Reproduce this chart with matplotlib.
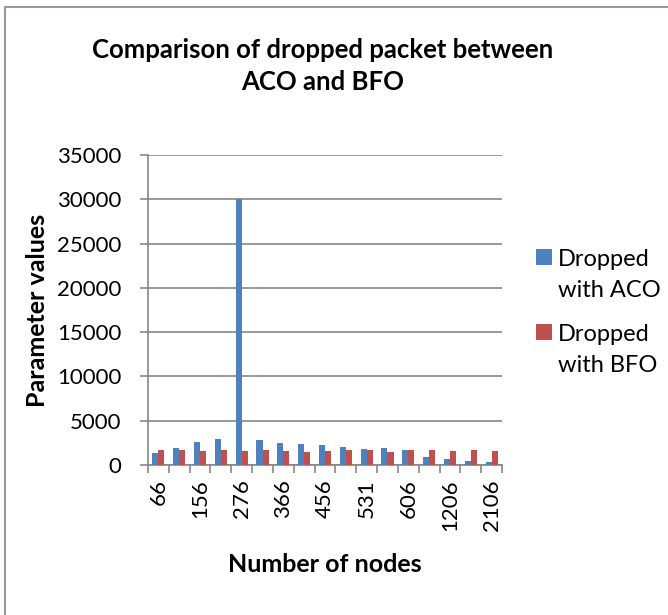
import numpy as np
import matplotlib
matplotlib.use('Agg')
import matplotlib.pyplot as plt
from matplotlib.patches import Rectangle

# node counts (only every second one is printed on the axis)
nodes = ['66', '126', '156', '216', '276', '306', '366', '426', '456',
         '501', '531', '576', '606', '906', '1206', '1506', '2106']
aco = [1300, 1900, 2630, 2930, 30000, 2820, 2520, 2400, 2220,
       2070, 1840, 1920, 1650, 900, 640, 410, 340]
bfo = [1730, 1700, 1580, 1650, 1580, 1730, 1580, 1500, 1580,
       1730, 1650, 1430, 1650, 1650, 1620, 1650, 1620]
yticks = [0, 5000, 10000, 15000, 20000, 25000, 30000, 35000]

BLUE, RED, GRAY = '#4F81BD', '#C0504D', '#868686'
plt.rcParams['font.family'] = ['Lato', 'DejaVu Sans']

fig = plt.figure(figsize=(6.68, 6.15), dpi=100)
ax = fig.add_axes([148/668, 150/615, 354/668, 310/615])

x = np.arange(len(nodes))
w = 0.29
ax.bar(x - w/2, aco, w, color=BLUE, label='Dropped\nwith ACO', zorder=3)
ax.bar(x + w/2, bfo, w, color=RED, label='Dropped\nwith BFO', zorder=3)

ax.set_xlim(-0.5, len(nodes) - 0.5)
ax.set_ylim(0, 35000)
ax.set_yticks(yticks)
ax.set_yticklabels([str(v) for v in yticks], fontsize=16)
ax.yaxis.grid(True, color=GRAY, lw=1.2, zorder=0)
ax.tick_params(axis='y', length=6, color=GRAY, width=1.2, pad=13)

# tick marks on category borders, labels on every second category
ax.set_xticks(np.arange(len(nodes) + 1) - 0.5)
ax.set_xticklabels([])
ax.tick_params(axis='x', which='major', length=6, color=GRAY, width=1.2)
ax.set_xticks(x[::2], minor=True)
ax.set_xticklabels(nodes[::2], minor=True, rotation=90, fontsize=16, va='top')
ax.tick_params(axis='x', which='minor', length=0, pad=10)

for s in ['top', 'right']:
    ax.spines[s].set_visible(False)
for s in ['left', 'bottom']:
    ax.spines[s].set_color(GRAY)
    ax.spines[s].set_linewidth(1.2)

ax.set_ylabel('Parameter values', fontsize=18, fontweight='bold', labelpad=6)
ax.set_xlabel('Number of nodes', fontsize=18, fontweight='bold', labelpad=16)
fig.text(323/668, 1 - 66/615, 'Comparison of dropped packet between\nACO and BFO',
         ha='center', va='center', fontsize=18.5, fontweight='bold', linespacing=1.45)

leg = ax.legend(loc='upper left', bbox_to_anchor=(527/668, 1 - 240/615),
                bbox_transform=fig.transFigure, frameon=False,
                handlelength=0.65, handleheight=0.65, handletextpad=0.25,
                labelspacing=1.0, borderaxespad=0, prop={'size': 17})
for t in leg.get_texts():
    t.set_linespacing(1.55)
# put the colour square next to the first line of each label
for col in leg._legend_handle_box.get_children():
    for item in col.get_children():
        item.align = 'top'

fig.patches.append(Rectangle((5/668, -0.1), 1.2, 1 - 7/615 + 0.1, transform=fig.transFigure,
                             fill=False, edgecolor='#9a9a9a', lw=1.5))
fig.savefig('out.png', dpi=100)
